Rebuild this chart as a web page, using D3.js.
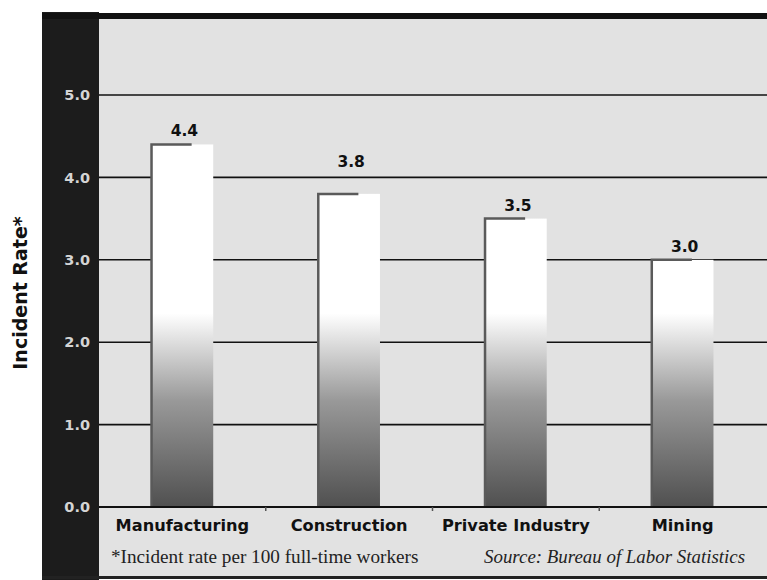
<!DOCTYPE html>
<html>
<head>
<meta charset="utf-8">
<script src="https://cdn.jsdelivr.net/npm/d3@7"></script>
<style>
  html, body { margin: 0; padding: 0; background: #ffffff; }
  svg { display: block; }
</style>
</head>
<body>
<svg id="chart" width="767" height="580"></svg>
<script>
// Injury incident rates by industry
const categories = ["Manufacturing", "Construction", "Private Industry", "Mining"];
const rates = [4.4, 3.8, 3.5, 3.0];
const tickValues = [0, 1, 2, 3, 4, 5];
const tickLabels = ["0.0", "1.0", "2.0", "3.0", "4.0", "5.0"];
const yTitle = "Incident Rate*";
const footnote = "*Incident rate per 100 full-time workers";
const source = "Source: Bureau of Labor Statistics";

const svg = d3.select("#chart");
const W = 767;

const frame = { left: 42, top: 15, bottom: 577 };
const bandRight = 99;
const sansBold = "DejaVu Sans, Verdana, sans-serif";
const serif = "Liberation Serif, Times New Roman, serif";

const x = d3.scaleBand()
  .domain(categories)
  .range([bandRight, 766])
  .paddingInner(0.63)
  .paddingOuter(0.315);

const y = d3.scaleLinear().domain([0, 5]).range([507, 95]);

// Plot background
svg.append("rect")
  .attr("x", bandRight).attr("y", frame.top)
  .attr("width", W - bandRight).attr("height", frame.bottom - frame.top)
  .attr("fill", "#e2e2e2");

// Left black band that carries the tick labels
svg.append("rect")
  .attr("x", frame.left).attr("y", 12)
  .attr("width", bandRight - frame.left).attr("height", frame.bottom - 12 + 3)
  .attr("fill", "#1c1c1c");

// Top and bottom frame lines
svg.append("rect")
  .attr("x", frame.left).attr("y", 13)
  .attr("width", W - frame.left).attr("height", 6)
  .attr("fill", "#111");
svg.append("rect")
  .attr("x", frame.left).attr("y", frame.bottom - 1)
  .attr("width", W - frame.left).attr("height", 3)
  .attr("fill", "#222");

// Gridlines
const gridValues = tickValues.filter(d => d > 0);
svg.append("g")
  .selectAll("line")
  .data(gridValues)
  .join("line")
  .attr("x1", bandRight).attr("x2", W)
  .attr("y1", d => y(d)).attr("y2", d => y(d))
  .attr("stroke", "#111").attr("stroke-width", 1.6);

// Tick labels on the black band
svg.append("g")
  .selectAll("text")
  .data(tickValues)
  .join("text")
  .attr("x", 90)
  .attr("y", d => y(d))
  .attr("dy", "0.36em")
  .attr("text-anchor", "end")
  .attr("fill", "#d4d4d4")
  .attr("font-family", sansBold)
  .attr("font-weight", "bold")
  .attr("font-size", 14.5)
  .text((d, i) => tickLabels[i]);

// Shared gradient: white above ~2.3, shading to dark grey at the baseline
const defs = svg.append("defs");
const grad = defs.append("linearGradient")
  .attr("id", "barGrad")
  .attr("gradientUnits", "userSpaceOnUse")
  .attr("x1", 0).attr("x2", 0)
  .attr("y1", y(2.35)).attr("y2", y(0));
grad.append("stop").attr("offset", 0).attr("stop-color", "#ffffff");
grad.append("stop").attr("offset", 0.12).attr("stop-color", "#e4e4e4");
grad.append("stop").attr("offset", 0.45).attr("stop-color", "#999999");
grad.append("stop").attr("offset", 1).attr("stop-color", "#505050");

const bars = svg.append("g");
bars.selectAll("rect.bar")
  .data(categories)
  .join("rect")
  .attr("class", "bar")
  .attr("x", d => x(d))
  .attr("y", (d, i) => y(rates[i]))
  .attr("width", x.bandwidth())
  .attr("height", (d, i) => y(0) - y(rates[i]))
  .attr("fill", "url(#barGrad)");

// Shaded left and top edges of each bar
bars.selectAll("path.edge")
  .data(categories)
  .join("path")
  .attr("class", "edge")
  .attr("d", (d, i) => {
    const x0 = x(d), yt = y(rates[i]);
    return `M${x0},${y(0)} L${x0},${yt} L${x0 + x.bandwidth() * 0.65},${yt}`;
  })
  .attr("fill", "none")
  .attr("stroke", "#5a5a5a")
  .attr("stroke-width", 2.5);

// Value labels sit just above the bar; if a gridline would cut
// through the label, it is lifted above that gridline instead.
function labelBaseline(v) {
  let base = y(v) - 8;
  const hit = gridValues.find(g => y(g) > base - 13 && y(g) < base + 2);
  if (hit !== undefined) base = y(hit) - 10;
  return base;
}
svg.append("g")
  .selectAll("text")
  .data(categories)
  .join("text")
  .attr("x", d => x(d) + x.bandwidth() / 2 + 2)
  .attr("y", (d, i) => labelBaseline(rates[i]))
  .attr("text-anchor", "middle")
  .attr("fill", "#111")
  .attr("font-family", sansBold)
  .attr("font-weight", "bold")
  .attr("font-size", 15.5)
  .text((d, i) => rates[i].toFixed(1));

// Baseline and small separators between categories
svg.append("line")
  .attr("x1", bandRight).attr("x2", W)
  .attr("y1", y(0)).attr("y2", y(0))
  .attr("stroke", "#111").attr("stroke-width", 2);
svg.append("g")
  .selectAll("line")
  .data(categories.slice(1))
  .join("line")
  .attr("x1", d => x(d) - x.step() * x.paddingInner() / 2)
  .attr("x2", d => x(d) - x.step() * x.paddingInner() / 2)
  .attr("y1", y(0)).attr("y2", y(0) + 4)
  .attr("stroke", "#555").attr("stroke-width", 1.5);

// Category labels
svg.append("g")
  .selectAll("text")
  .data(categories)
  .join("text")
  .attr("x", d => x(d) + x.bandwidth() / 2)
  .attr("y", 531)
  .attr("text-anchor", "middle")
  .attr("fill", "#111")
  .attr("font-family", sansBold)
  .attr("font-weight", "bold")
  .attr("font-size", 16.2)
  .text(d => d);

// Footnote and source
svg.append("text")
  .attr("x", 111).attr("y", 563)
  .attr("fill", "#222")
  .attr("font-family", serif)
  .attr("font-size", 19.2)
  .text(footnote);
svg.append("text")
  .attr("x", 745).attr("y", 563)
  .attr("text-anchor", "end")
  .attr("fill", "#222")
  .attr("font-family", serif)
  .attr("font-style", "italic")
  .attr("font-size", 18.9)
  .text(source);

// Y-axis title
svg.append("text")
  .attr("transform", "translate(27,293) rotate(-90)")
  .attr("text-anchor", "middle")
  .attr("fill", "#111")
  .attr("font-family", sansBold)
  .attr("font-weight", "bold")
  .attr("font-size", 19)
  .text(yTitle);
</script>
</body>
</html>
